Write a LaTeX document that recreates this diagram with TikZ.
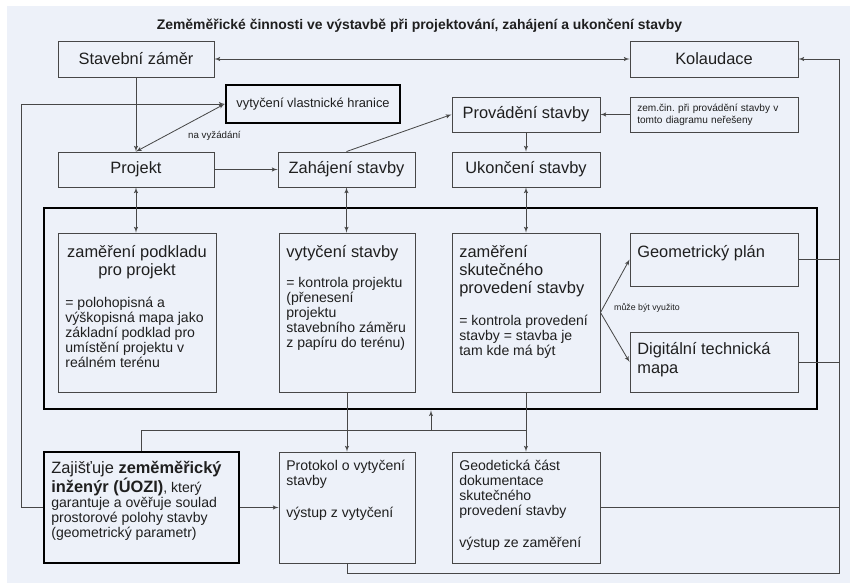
\documentclass[tikz,border=0pt]{standalone}
\usepackage{fontspec}
\setmainfont{Liberation Sans}
\usetikzlibrary{arrows}
\frenchspacing

\definecolor{bgcol}{HTML}{EDF1F9}
\definecolor{linecol}{HTML}{474747}
\definecolor{txtcol}{HTML}{1F1F1F}

\newcommand{\hdfont}{\fontsize{14}{15.4}\selectfont}
\newcommand{\txfont}{\fontsize{12}{12.8}\selectfont}
% text of a tall box: width, height, contents (from the top)
\newcommand{\boxtxt}[3]{\parbox[c][#2][t]{#1}{\raggedright #3}}

\tikzset{
  box/.style={draw=linecol, line width=0.8pt, text=txtcol, inner sep=0pt},
  tbox/.style={box, inner xsep=0.22cm, inner ysep=0pt},
  boldbox/.style={draw=black, line width=2.4pt},
  conn/.style={draw=linecol, line width=0.7pt},
  small/.style={text=txtcol, inner sep=0pt}
}

\begin{document}
\begin{tikzpicture}[x=0.03cm, y=-0.03cm, >=latex']
%background
\useasboundingbox (0,0) rectangle (850,583);
\fill[bgcol] (7,6) rectangle (850,583);
\node[small, font=\bfseries\fontsize{11.9}{14}\selectfont, anchor=base] (title) at (419.5,29)
  {Zeměměřické činnosti ve výstavbě při projektování, zahájení a ukončení stavby};

%top rows:
\node[box, minimum width=4.68cm, minimum height=1.08cm, font=\hdfont] (zamer) at (136,59) {Stavební záměr};
\node[box, minimum width=5.04cm, minimum height=1.08cm, font=\hdfont] (kolaud) at (714,59) {Kolaudace};
\node[box, boldbox, minimum width=5.22cm, minimum height=1.14cm, font=\fontsize{11}{13}\selectfont] (hranice) at (313,104) {vytyčení vlastnické hranice};
\node[box, minimum width=4.44cm, minimum height=1.05cm, font=\hdfont] (provadeni) at (526,114.5) {Provádění stavby};
\node[box, minimum width=5.04cm, minimum height=1.05cm, text width=4.6cm, align=left,
  font=\fontsize{8.6}{10}\selectfont] (nereseno) at (714,114.5) {zem.čin. při provádění stavby v\\tomto diagramu neřešeny};
\node[box, minimum width=4.68cm, minimum height=1.05cm, font=\hdfont] (projekt) at (136,169.5) {Projekt};
\node[box, minimum width=4.11cm, minimum height=1.05cm, font=\hdfont] (zahajeni) at (346.5,169.5) {Zahájení stavby};
\node[box, minimum width=4.44cm, minimum height=1.05cm, font=\hdfont] (ukonceni) at (526,169.5) {Ukončení stavby};

%measurements (thick frame)
\node[boldbox, inner sep=0pt, minimum width=23.19cm, minimum height=6.03cm] (frame) at (430.5,308.5) {};
\node[tbox] (podklad) at (137,312.5) {\boxtxt{4.30cm}{4.77cm}{%
  {\centering\hdfont\rule{0pt}{21pt}\makebox[\linewidth]{zaměření podkladu}\\pro projekt\par}
  \vspace{14.5pt}
  {\txfont = polohopisná a\\výškopisná mapa jako\\základní podklad pro\\umístění projektu v\\reálném terénu\par}}};
\node[tbox] (vytyceni) at (347,312.5) {\boxtxt{3.64cm}{4.77cm}{%
  \rule{0pt}{21pt}{\hdfont vytyčení stavby\par}
  \vspace{12.8pt}
  {\txfont = kontrola projektu\\(přenesení\\projektu\\stavebního záměru\\z papíru do terénu)\par}}};
\node[tbox] (skutecne) at (526,312.5) {\boxtxt{4.00cm}{4.77cm}{%
  \rule{0pt}{20.5pt}{\hdfont zaměření\\skutečného\\provedení stavby\par}
  \vspace{14.5pt}
  {\txfont = kontrola provedení\\stavby = stavba je\\tam kde má být\par}}};
\node[tbox] (geoplan) at (714,259.5) {\boxtxt{4.60cm}{1.59cm}{%
  \rule{0pt}{20.5pt}{\hdfont Geometrický plán\par}}};
\node[tbox] (dtm) at (714,362) {\boxtxt{4.60cm}{1.80cm}{%
  \rule{0pt}{19.6pt}{\hdfont Digitální technická\\mapa\par}}};

%bottom row:
\node[tbox, boldbox] (zajistuje) at (141.5,507.5) {\boxtxt{5.41cm}{3.33cm}{%
  \rule{0pt}{18pt}{\hdfont Zajišťuje \textbf{zeměměřický}\par}
  {\txfont\textbf{\hdfont inženýr (ÚOZI)}, který\\garantuje a ověřuje soulad\\prostorové polohy stavby\\(geometrický parametr)\par}}};
\node[tbox] (protokol) at (347,507.5) {\boxtxt{3.64cm}{3.33cm}{%
  \rule{0pt}{16.2pt}{\txfont Protokol o vytyčení\\stavby\par}
  \vspace{14.5pt}
  {\txfont výstup z vytyčení\par}}};
\node[tbox] (geodet) at (526,507.5) {\boxtxt{4.00cm}{3.33cm}{%
  \rule{0pt}{16.2pt}{\txfont Geodetická část\\dokumentace\\skutečného\\provedení stavby\par}
  \vspace{13.7pt}
  {\txfont výstup ze zaměření\par}}};

%connectors
\draw[conn, <->] (zamer) -- (kolaud);
\draw[conn, ->] (zamer) -- (projekt);
\draw[conn, <->] (projekt.north) -- (hranice.west);
\node[small, font=\fontsize{8.3}{10}\selectfont, anchor=west] (vyzadani) at (188,136) {na vyžádání};
\draw[conn, ->] (zajistuje.west) -- ++(-21,0) |- (hranice.west);
\draw[conn, ->] (projekt) -- (zahajeni);
\draw[conn, ->] (zahajeni.north) -- (provadeni.west);
\draw[conn, ->] (nereseno) -- (provadeni);
\draw[conn, ->] (provadeni) -- (ukonceni);
\draw[conn, <->] (projekt.south) -- (projekt.south |- podklad.north);
\draw[conn, <->] (zahajeni.south) -- (zahajeni.south |- vytyceni.north);
\draw[conn, <->] (ukonceni) -- (skutecne);
\draw[conn, ->] (skutecne.east) -- (geoplan.west);
\draw[conn, ->] (skutecne.east) -- (dtm.west);
\node[small, font=\fontsize{7.5}{9}\selectfont, anchor=west] (vyuzito) at (614,308) {může být využito};
\draw[conn, ->] (vytyceni) -- (protokol);
\draw[conn, ->] (skutecne) -- (geodet);
\coordinate (ramen) at (431,430);
\draw[conn, ->] (zajistuje.north) |- (ramen) -- (ramen |- frame.south);
\draw[conn] (ramen) -- (ramen -| geodet.north);
\draw[conn, ->] (zajistuje) -- (protokol);
\coordinate (roh) at (839,573);
\draw[conn, ->] (protokol.south) |- (roh) |- (kolaud.east);
\draw[conn] (geoplan.east) -- (geoplan.east -| roh);
\draw[conn] (dtm.east) -- (dtm.east -| roh);
\draw[conn] (geodet.east) -- (geodet.east -| roh);
\end{tikzpicture}
\end{document}
